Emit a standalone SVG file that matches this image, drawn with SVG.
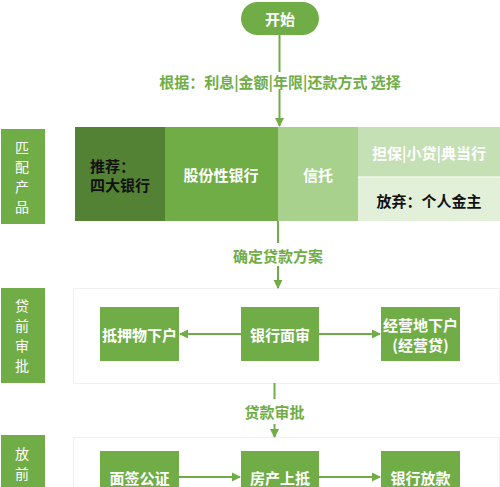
<svg xmlns="http://www.w3.org/2000/svg" width="500" height="487" viewBox="0 0 500 487">
<defs>
<style>
text{font-family:"Noto Sans CJK SC","Noto Sans",sans-serif;font-weight:bold;}
.w{fill:#fff;font-size:15px;text-anchor:middle;dominant-baseline:central;}
.k{fill:#111;font-size:15px;dominant-baseline:central;}
.lab{fill:#70ad47;font-size:15px;text-anchor:middle;dominant-baseline:central;}
.side{fill:#fff;font-size:14px;text-anchor:middle;dominant-baseline:central;font-weight:normal;}
.node{fill:#70ad47;}
.panel{fill:#fff;stroke:#f0f0f0;stroke-width:1;}
.ln{stroke:#70ad47;stroke-width:2;fill:none;}
</style>
<marker id="ah" markerWidth="10" markerHeight="10" refX="8" refY="5" orient="auto" markerUnits="userSpaceOnUse">
<path d="M0,0.5 L9,5 L0,9.5 Z" fill="#70ad47"/>
</marker>
</defs>
<rect width="500" height="487" fill="#fff"/>

<g id="start">
<rect x="241" y="2" width="78" height="33" rx="16.5" fill="#70ad47"/>
<text class="w" x="280" y="18.5">开始</text>
</g>

<g id="side-match">
<rect x="1" y="129" width="44" height="95" fill="#70ad47"/>
<text class="side" x="22" y="147">匹</text>
<text class="side" x="22" y="166">配</text>
<text class="side" x="22" y="186">产</text>
<text class="side" x="22" y="206">品</text>
</g>
<g id="side-review">
<rect x="1" y="288" width="44" height="95" fill="#70ad47"/>
<text class="side" x="22" y="305">贷</text>
<text class="side" x="22" y="325">前</text>
<text class="side" x="22" y="345">审</text>
<text class="side" x="22" y="365">批</text>
</g>
<g id="side-loan">
<rect x="1" y="435" width="44" height="60" fill="#70ad47"/>
<text class="side" x="22" y="453">放</text>
<text class="side" x="22" y="473">前</text>
</g>

<g id="products">
<rect x="75" y="127" width="90" height="94" fill="#548235"/>
<text class="k" x="90" y="165">推荐：</text>
<text class="k" x="90" y="184">四大银行</text>
<rect x="165" y="127" width="113" height="94" fill="#70ad47"/>
<text class="w" x="221" y="174">股份性银行</text>
<rect x="278" y="127" width="80" height="94" fill="#a9d18e"/>
<text class="w" x="318" y="174">信托</text>
<rect x="358" y="127" width="142" height="50" fill="#c5e0b4"/>
<text class="w" x="429" y="152">担保|小贷|典当行</text>
<rect x="358" y="177" width="142" height="44" fill="#e2f0d9"/>
<line x1="358" y1="177" x2="500" y2="177" stroke="#fff" stroke-width="1"/>
<text class="k" x="429" y="200" text-anchor="middle">放弃：个人金主</text>
</g>

<rect class="panel" x="73.5" y="288.5" width="426" height="95"/>
<rect class="panel" x="73.5" y="437.5" width="426" height="60"/>

<g id="n-mortgage"><rect class="node" x="100" y="307" width="79" height="54"/><text class="w" x="139.5" y="334">抵押物下户</text></g>
<g id="n-interview"><rect class="node" x="241" y="307" width="78" height="54"/><text class="w" x="280" y="334">银行面审</text></g>
<g id="n-business"><rect class="node" x="381" y="307" width="79" height="54"/><text class="w" x="420.5" y="324">经营地下户</text><text class="w" x="420.5" y="344">(经营贷)</text></g>

<g id="n-sign"><rect class="node" x="100" y="451" width="79" height="54"/><text class="w" x="139.5" y="477">面签公证</text></g>
<g id="n-pledge"><rect class="node" x="241" y="451" width="78" height="54"/><text class="w" x="280" y="477">房产上抵</text></g>
<g id="n-release"><rect class="node" x="381" y="451" width="79" height="54"/><text class="w" x="420.5" y="477">银行放款</text></g>

<g id="connectors">
<line class="ln" x1="279.5" y1="35" x2="279.5" y2="72"/>
<line class="ln" x1="279.5" y1="89" x2="279.5" y2="126" marker-end="url(#ah)"/>
<text class="lab" x="280" y="81">根据：利息|金额|年限|还款方式 选择</text>
<line class="ln" x1="278" y1="221" x2="278" y2="243"/>
<line class="ln" x1="278" y1="266" x2="278" y2="288" marker-end="url(#ah)"/>
<text class="lab" x="278" y="255">确定贷款方案</text>
<line class="ln" x1="241" y1="334" x2="180" y2="334" marker-end="url(#ah)"/>
<line class="ln" x1="319" y1="334" x2="380" y2="334" marker-end="url(#ah)"/>
<line class="ln" x1="274.5" y1="383" x2="274.5" y2="399"/>
<line class="ln" x1="274.5" y1="424" x2="274.5" y2="437" marker-end="url(#ah)"/>
<text class="lab" x="274.5" y="411">贷款审批</text>
<line class="ln" x1="179" y1="477" x2="240" y2="477" marker-end="url(#ah)"/>
<line class="ln" x1="319" y1="477" x2="380" y2="477" marker-end="url(#ah)"/>
</g>
</svg>
